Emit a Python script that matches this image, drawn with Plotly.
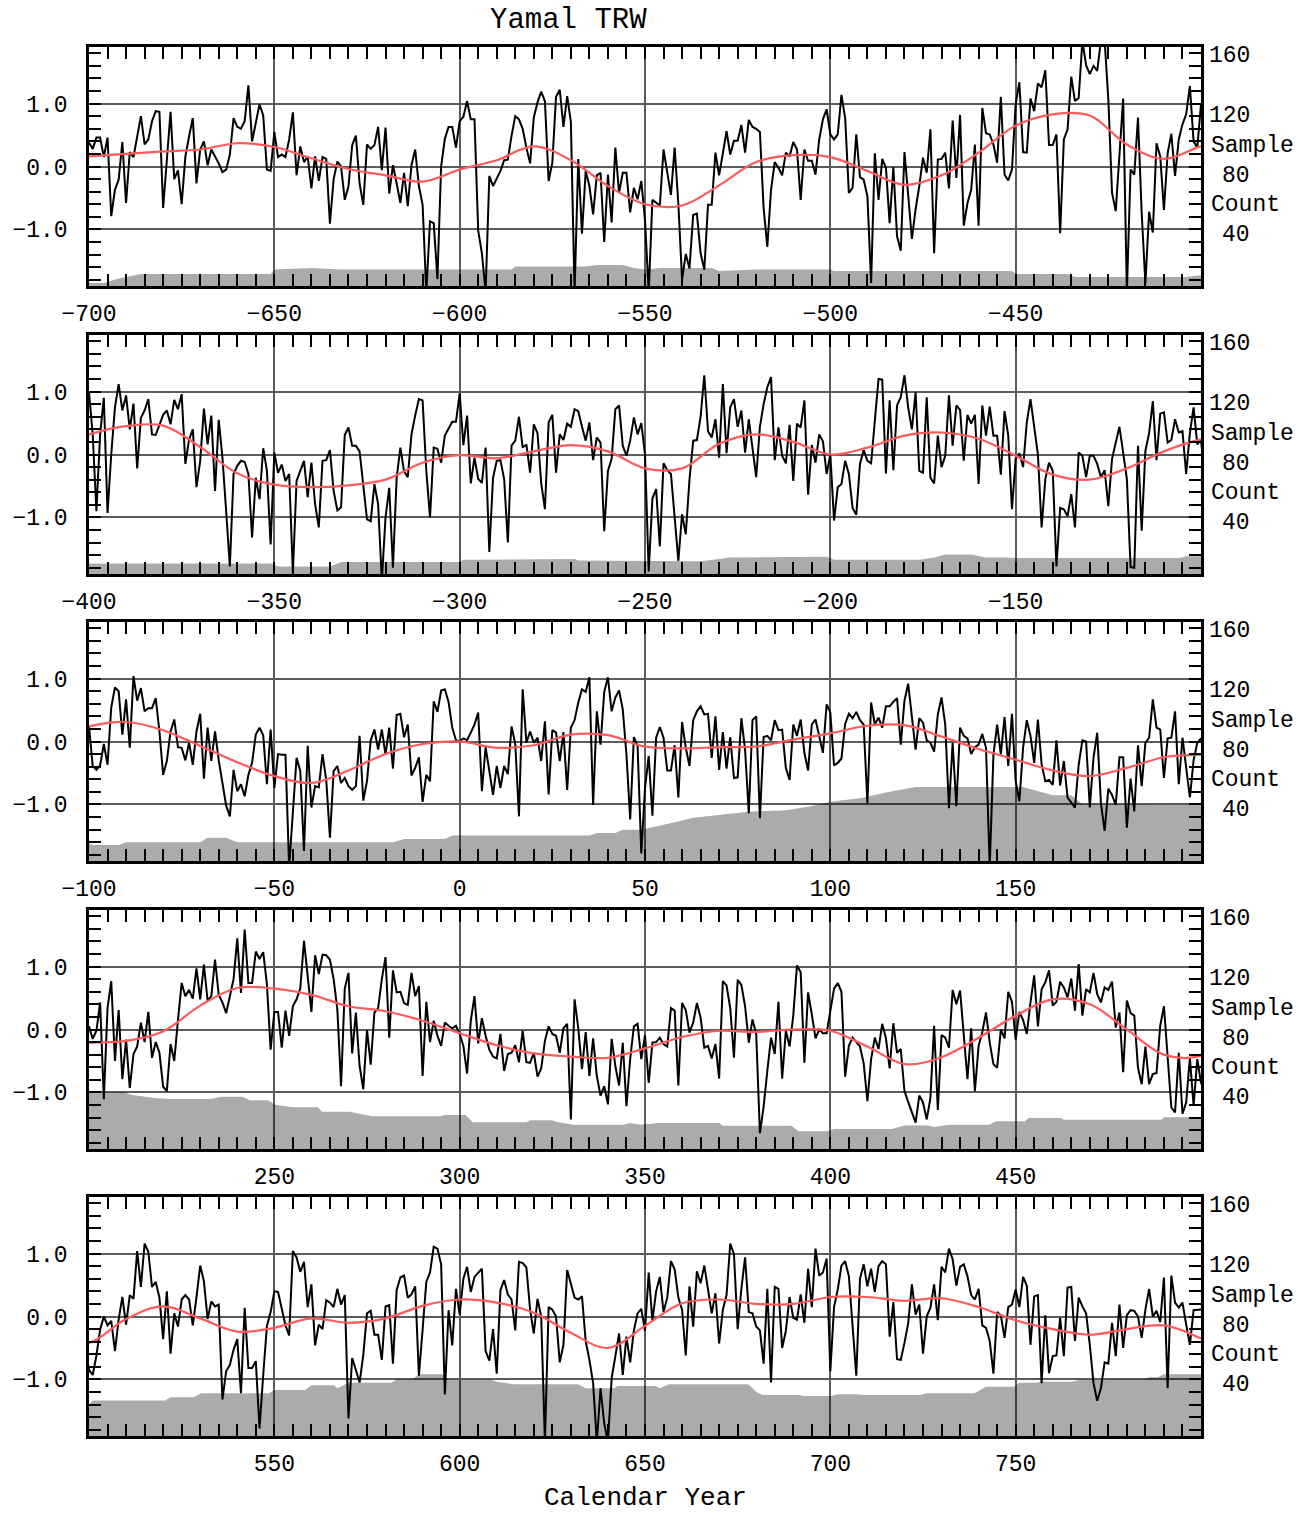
import plotly.graph_objects as go

# ---------------- data ----------------
trw_p1 = [
    0.38, 0.28, 0.46, 0.46, 0.15, 0.46, -0.79, -0.37, -0.21, 0.39,
    -0.58, 0.23, 0.15, 0.45, 0.80, 0.35, 0.43, 0.72, 0.88, 0.87,
    -0.66, 0.10, 0.87, -0.20, -0.06, -0.60, 0.16, 0.48, 0.77, -0.27,
    0.27, 0.40, 0.02, 0.27, 0.16, 0.05, -0.09, -0.05, 0.19, 0.77,
    0.63, 0.60, 0.72, 1.29, 0.40, 0.70, 0.99, 0.81, -0.05, -0.07,
    0.55, 0.15, 0.19, 0.15, 0.43, 0.86, -0.14, 0.32, 0.07, 0.16,
    -0.35, 0.16, -0.23, 0.15, 0.12, -0.91, -0.20, 0.08, 0.00, -0.53,
    -0.32, 0.34, 0.49, -0.27, -0.61, 0.35, 0.28, 0.34, 0.63, -0.06,
    0.62, -0.43, 0.02, -0.27, -0.58, -0.10, -0.63, 0.02, 0.27, -0.31,
    -0.61, -2.00, -0.87, -0.90, -1.79, 0.00, 0.44, 0.63, 0.63, 0.30,
    0.72, 0.79, 1.04, 0.75, 0.75, -1.02, -1.38, -2.00, -0.15, -0.31,
    -0.18, -0.07, 0.10, 0.11, 0.49, 0.80, 0.75, 0.60, 0.30, 0.05,
    0.78, 1.02, 1.19, 1.04, -0.23, 0.06, 1.11, 1.22, 0.63, 1.12,
    0.71, -2.00, 0.12, -1.07, -0.07, -0.31, -0.76, -0.14, -0.10, -1.20,
    -0.13, -0.89, 0.30, -0.42, -0.10, -0.10, -0.73, -0.34, -0.52, -0.23,
    -0.85, -2.00, -0.53, -0.58, -0.62, 0.27, -0.10, -0.45, 0.30, -0.60,
    -1.80, -1.39, -1.62, -0.77, -0.75, -1.38, -1.64, -0.61, -0.61, 0.22,
    -0.14, 0.24, 0.56, 0.19, 0.41, 0.41, 0.66, 0.22, 0.74, 0.63,
    0.60, 0.55, -0.66, -1.28, -0.37, 0.07, -0.02, -0.14, 0.22, 0.16,
    0.39, 0.27, -0.53, 0.27, 0.09, 0.09, -0.13, 0.43, 0.75, 0.91,
    0.51, 0.43, 0.51, 1.14, 0.77, -0.42, -0.34, 0.51, -0.17, -0.21,
    -0.47, -1.85, 0.21, -0.53, 0.12, -0.02, -0.90, -0.01, -1.11, -1.34,
    0.23, -0.45, -1.15, -0.68, -0.31, 0.14, -0.10, 0.59, -1.38, 0.11,
    0.12, 0.22, -0.35, 0.73, -0.18, 0.82, -0.94, -0.58, -0.37, 0.35,
    -0.94, 0.93, 0.53, 0.51, 0.35, 0.06, 1.11, -0.13, -0.22, -0.05,
    0.99, 1.34, 0.23, 0.22, 1.08, 0.88, 1.32, 1.26, 1.53, 0.34,
    0.34, 0.51, -1.06, 0.43, 0.59, 1.43, 1.04, 1.09, 2.00, 1.61,
    1.47, 1.60, 1.52, 2.00, 2.00, 1.07, -0.42, -0.71, 0.22, 1.08,
    -2.00, -0.05, -0.13, 0.78, -0.74, -1.86, -0.72, -1.05, 0.37, 0.16,
    -0.69, 0.21, 0.52, -0.15, 0.43, 0.67, 0.83, 1.28, 0.40, 0.30,
]

trw_p2 = [
    0.99, 0.32, -0.90, 0.32, 0.90, -0.93, 0.00, 0.75, 1.12, 0.70,
    0.94, 0.40, 0.81, -0.22, 0.58, 0.70, 0.88, 0.32, 0.31, 0.48,
    0.63, 0.70, 0.48, 0.87, 0.72, 0.96, -0.15, 0.24, 0.40, -0.52,
    -0.10, 0.73, 0.16, 0.62, -0.58, 0.55, -0.05, -0.90, -1.78, -0.31,
    -0.18, -0.10, -0.12, -0.31, -1.32, -0.37, -0.71, 0.10, -0.26, -1.43,
    0.03, -0.29, -0.16, -0.42, -0.31, -1.88, -0.42, -0.26, -0.10, -0.68,
    -0.13, -0.79, -1.16, -0.10, -0.09, 0.07, -0.58, -0.89, -0.84, 0.31,
    0.43, 0.14, 0.14, 0.05, -0.53, -1.03, -1.06, -0.47, -0.79, -2.00,
    -1.00, -0.53, -1.80, -0.37, 0.11, -0.27, -0.36, 0.32, 0.62, 0.88,
    0.86, -0.26, -1.00, 0.11, 0.09, -0.13, 0.30, 0.40, 0.52, 0.52,
    0.97, 0.15, 0.62, -0.46, -0.05, -0.39, -0.45, 0.11, -1.55, -0.37,
    -0.10, -0.09, -0.39, -1.40, 0.14, 0.22, 0.60, 0.11, 0.16, -0.29,
    0.48, 0.34, -0.46, -0.87, 0.51, 0.63, -0.29, 0.32, 0.23, 0.49,
    0.44, 0.72, 0.69, 0.44, 0.22, 0.51, -0.09, 0.27, 0.19, -1.22,
    -0.26, -0.07, 0.72, 0.78, 0.14, -0.02, 0.22, 0.59, 0.32, 0.50,
    0.00, -1.86, -0.70, -0.55, -1.46, -0.14, -0.25, -0.31, -1.00, -1.69,
    -0.95, -1.27, -0.40, 0.22, 0.23, 0.60, 1.26, 0.37, 0.27, 0.56,
    -0.05, 1.12, 0.02, 0.75, 0.88, 0.44, 0.70, 0.03, 0.56, 0.10,
    -0.36, 0.44, 0.80, 1.07, 1.23, -0.09, 0.43, -0.02, -0.14, 0.47,
    -0.42, 0.49, 0.43, 0.86, -0.64, 0.15, -0.13, 0.32, 0.21, -0.31,
    0.00, -1.05, -0.52, -0.47, -0.10, -0.31, -0.85, -0.96, -0.15, 0.07,
    -0.10, -0.14, 0.54, 1.20, 1.19, -0.30, 0.86, -0.25, 0.78, 0.91,
    1.26, 0.75, 0.40, 0.99, -0.26, -0.29, 0.91, -0.37, -0.46, 0.30,
    -0.20, -0.02, 0.94, 0.14, 0.78, 0.71, -0.10, 0.63, 0.49, 0.63,
    -0.47, 0.78, 0.30, 0.76, 0.30, 0.30, -0.32, 0.69, 0.30, -0.87,
    -0.07, 0.02, -0.20, 0.51, 0.88, 0.48, 0.00, -1.16, -0.39, -0.13,
    -0.26, -1.78, -0.85, -0.87, -0.98, -0.63, -1.16, 0.03, -0.02, -0.36,
    -0.02, -0.02, -0.15, -0.36, -0.25, -0.82, -0.07, 0.19, 0.44, 0.03,
    -0.39, -1.79, -1.80, 0.14, -1.21, 0.06, 0.34, 0.85, -0.09, 0.65,
    0.67, 0.19, 0.23, 0.56, 0.35, 0.37, -0.31, 0.34, 0.75, 0.16,
]

trw_p3 = [
    0.24, -0.39, -0.45, -0.38, -0.04, -0.37, 0.54, 0.86, 0.80, 0.11,
    0.67, -0.10, 1.04, 0.65, 0.85, 0.48, 0.53, 0.53, 0.69, 0.16,
    -0.53, -0.31, 0.16, 0.35, -0.09, -0.10, -0.30, -0.02, -0.37, 0.16,
    0.44, -0.59, 0.22, -0.31, 0.16, -0.30, -0.63, -1.02, -1.19, -0.45,
    -0.79, -0.68, -0.87, -0.53, -0.34, 0.11, 0.22, 0.10, -0.68, 0.19,
    -0.74, -0.20, -0.21, -0.21, -2.00, -1.06, -0.26, -0.47, -1.74, -0.07,
    -1.05, -0.71, -0.73, -0.20, -0.61, -1.53, -0.47, -0.39, -0.66, -0.58,
    -0.71, -0.77, -0.71, 0.09, -0.94, -0.63, 0.02, 0.19, -0.13, 0.19,
    -0.21, 0.22, -0.43, 0.42, 0.44, 0.07, 0.27, -0.54, -0.42, -0.25,
    -0.96, -0.53, -0.63, 0.64, 0.47, 0.81, 0.83, 0.63, 0.22, 0.02,
    0.00, 0.05, 0.02, 0.14, 0.27, 0.46, -0.79, -0.09, -0.47, -0.85,
    -0.39, -0.74, -0.39, -0.52, 0.24, -0.04, -1.19, 0.83, -0.02, 0.16,
    -0.02, 0.06, -0.31, 0.32, -0.84, 0.18, 0.14, -0.31, 0.15, -0.77,
    0.22, 0.34, 0.62, 0.83, 0.79, 1.02, -1.01, 0.48, -0.05, 0.79,
    1.02, 0.48, 0.70, 0.81, 0.51, -0.21, -1.24, 0.07, -0.07, -1.78,
    -0.74, -0.23, -1.18, 0.06, 0.23, 0.06, -0.46, -0.46, -0.06, -0.89,
    0.31, -0.10, -0.39, 0.34, 0.48, 0.56, 0.43, 0.44, -0.26, 0.40,
    -0.45, 0.15, -0.43, 0.07, -0.58, -0.57, 0.37, -0.13, -1.14, 0.34,
    0.40, -1.22, 0.07, 0.09, 0.02, 0.34, 0.18, 0.19, -0.42, -0.61,
    0.27, 0.09, 0.35, -0.18, -0.46, 0.27, 0.35, 0.10, -0.18, 0.59,
    0.46, -0.38, -0.34, -0.27, 0.28, 0.44, 0.37, 0.47, 0.34, 0.27,
    -0.98, 0.62, 0.27, 0.38, 0.22, 0.56, 0.56, 0.63, 0.69, -0.05,
    0.65, 0.92, 0.39, -0.13, 0.37, 0.30, 0.02, -0.02, -0.16, 0.43,
    0.70, 0.27, -1.06, -0.02, -1.03, 0.22, 0.09, 0.05, -0.20, -0.09,
    -0.05, 0.12, -0.10, -2.00, -0.21, 0.27, -0.21, 0.39, -0.39, 0.44,
    -0.63, -0.95, -0.10, 0.34, 0.09, -0.34, 0.35, -0.36, -0.63, -0.61,
    -0.69, 0.02, -0.70, -0.31, -0.89, -0.98, -1.05, -0.37, 0.02, 0.00,
    -1.05, -0.26, 0.14, -0.98, -1.42, -0.75, -0.85, -1.01, -0.25, -0.25,
    -1.37, -0.59, -1.11, -0.06, -0.71, -0.02, 0.06, 0.67, 0.22, 0.19,
    -0.58, 0.05, 0.06, 0.48, -0.68, 0.06, -0.42, -0.89, -0.30, -0.02,
]

trw_p4 = [
    0.05, -0.15, -0.02, 0.43, -1.11, 0.34, 0.77, -0.50, 0.31, -0.79,
    -0.16, -0.93, -0.39, -0.27, 0.11, -0.20, 0.28, -0.45, -0.20, -0.37,
    -0.91, -0.98, -0.23, -0.50, 0.15, 0.74, 0.53, 0.63, 0.49, 0.97,
    0.48, 1.03, 0.46, 0.53, 1.11, 0.55, 0.43, 0.26, 0.53, 0.80,
    1.45, 0.58, 1.59, 0.74, 0.74, 1.24, 1.12, 1.23, 0.72, -0.32,
    0.28, 0.28, -0.29, 0.30, -0.10, 0.37, 0.48, 0.65, 1.41, 0.86,
    0.28, 1.18, 0.88, 1.19, 1.18, 1.11, 0.80, 0.32, -0.90, 0.65,
    0.90, -0.38, 0.27, -0.58, -0.95, -0.01, -0.56, 0.27, 0.34, 0.80,
    1.15, -0.13, 0.94, 0.59, 0.60, 0.42, 0.39, 0.90, 0.53, 0.69,
    -0.74, 0.44, -0.20, 0.14, -0.10, -0.26, 0.11, 0.06, 0.02, 0.06,
    -0.07, -0.26, -0.70, 0.14, 0.53, -0.22, 0.18, -0.10, -0.32, -0.43,
    -0.46, -0.07, -0.66, -0.39, -0.37, -0.25, -0.52, -0.02, -0.52, -0.53,
    -0.37, -0.75, -0.62, -0.18, 0.05, -0.07, -0.10, -0.37, 0.02, 0.09,
    -1.43, 0.48, 0.02, -0.63, -0.04, -0.74, -0.14, -0.74, -1.05, -0.90,
    -1.19, -0.15, -0.58, -0.89, -0.21, -1.22, -0.47, 0.05, 0.09, -0.47,
    -0.09, -0.85, -0.21, -0.20, -0.13, -0.23, -0.27, 0.34, 0.30, -0.89,
    0.42, 0.31, -0.05, 0.11, 0.42, 0.19, -0.29, -0.26, -0.46, -0.23,
    -0.78, 0.77, 0.70, 0.34, -0.45, 0.79, 0.71, 0.37, -0.21, 0.16,
    -0.07, -1.65, -1.23, -0.66, -0.13, -0.39, 0.44, -0.78, -0.02, -0.27,
    0.22, 1.02, 0.91, -0.53, 0.59, 0.24, -0.14, 0.00, -0.06, -0.06,
    0.30, 0.65, 0.74, 0.60, -0.75, -0.26, -0.13, -0.20, -0.27, -0.54,
    -1.14, -0.47, -0.13, -0.31, 0.09, -0.14, -0.62, 0.10, -0.37, -0.31,
    -0.98, -1.15, -1.31, -1.48, -1.05, -1.16, -1.43, -1.09, 0.06, -1.28,
    -0.09, -0.13, -0.29, 0.63, 0.40, 0.62, -0.09, -0.79, 0.02, -0.98,
    -0.26, -0.04, 0.27, -0.21, -0.55, -0.61, 0.00, -0.14, 0.60, 0.44,
    -0.16, 0.28, 0.15, -0.07, 0.43, 0.86, 0.05, 0.64, 0.75, 0.94,
    0.38, 0.44, 0.76, 0.67, 0.51, 0.81, 0.30, 1.04, 0.22, 0.64,
    0.59, 0.90, 0.56, 0.43, 0.67, 0.63, 0.76, 0.03, 0.27, -0.68,
    0.46, 0.26, 0.22, -0.61, -0.87, -0.27, -0.87, -0.71, -0.69, 0.06,
    0.37, -0.39, -1.24, -1.32, -0.37, -1.34, -1.16, -0.45, -1.21, -0.47,
]

trw_p5 = [
    -0.85, -0.93, -0.62, -0.21, 0.00, -0.14, -0.07, -0.55, -0.05, 0.31,
    -0.13, 0.34, 0.28, 1.04, 0.47, 1.16, 1.03, 0.47, 0.55, 0.30,
    -0.36, 0.40, -0.59, 0.05, -0.16, 0.27, 0.34, 0.27, -0.14, 0.31,
    0.81, 0.56, -0.04, 0.24, 0.16, 0.19, -1.32, -0.87, -0.77, -0.53,
    -0.36, -1.22, 0.14, -0.82, -0.82, -0.71, -1.78, -0.93, -0.15, 0.07,
    0.40, 0.39, 0.12, -0.14, -0.30, 1.04, 0.94, 0.71, 0.87, 0.15,
    0.51, -0.46, -0.13, -0.20, 0.26, 0.22, 0.15, 0.44, 0.19, 0.34,
    -1.62, -0.66, -0.85, -1.05, -0.61, 0.05, 0.09, -0.29, -0.29, -0.69,
    0.16, 0.18, -0.75, 0.42, 0.62, 0.65, 0.30, 0.35, 0.48, -0.94,
    -0.21, 0.55, 0.70, 1.11, 1.08, 0.83, -1.24, 0.10, -0.46, 0.44,
    0.03, 0.60, 0.79, 0.39, 0.63, 0.70, 0.76, -0.55, -0.70, -0.20,
    -0.91, 0.42, 0.58, 0.35, 0.27, -0.22, 0.87, 0.85, 0.78, 0.11,
    -0.27, 0.28, 0.00, -2.00, 0.15, 0.11, 0.00, -0.73, -0.45, 0.74,
    0.54, 0.30, 0.27, 0.32, -0.39, -0.69, -1.06, -2.00, -1.14, -1.70,
    -2.00, -0.98, -0.63, -0.27, -0.93, -0.32, -0.73, -0.22, 0.05, 0.12,
    -0.23, 0.70, -0.07, 0.40, 0.63, 0.07, 0.30, 0.88, 0.75, 0.30,
    0.11, -0.62, 0.48, -0.16, 0.72, 0.53, 0.81, 0.43, 0.05, 0.37,
    -0.43, 0.11, 0.34, 1.16, 0.99, -0.20, 0.44, 0.94, 0.07, 0.05,
    -0.16, -0.22, -0.75, 0.44, -1.05, 0.47, 0.44, -0.50, -0.23, 0.31,
    -0.02, -0.05, 0.35, -0.10, 0.76, 0.15, 1.08, 0.65, 0.70, 0.92,
    -0.87, 0.15, 0.43, 0.81, 0.88, 0.64, -0.10, -0.94, 0.60, 0.83,
    0.48, 0.76, 0.39, 0.80, 0.88, 0.83, -0.32, 0.23, -0.68, -0.69,
    -0.42, -0.11, 0.51, 0.03, 0.19, -0.59, 0.00, 0.14, 0.51, -0.06,
    0.79, 0.70, 1.08, 0.91, 0.49, 0.79, 0.83, 0.64, 0.34, 0.27,
    0.44, -0.14, -0.18, -0.39, -0.91, 0.07, 0.02, -0.34, 0.15, 0.19,
    0.43, 0.15, 0.63, 0.49, -0.45, 0.32, 0.34, -1.06, 0.02, -0.90,
    -0.63, -0.62, -0.02, -0.63, 0.46, 0.47, -0.39, 0.30, 0.16, 0.05,
    -0.45, -1.06, -1.34, -1.14, -0.73, -0.75, -0.10, -0.63, 0.19, -0.50,
    0.02, 0.10, 0.09, 0.00, -0.34, 0.11, 0.44, 0.00, 0.09, -0.09,
    0.62, -1.14, 0.65, 0.22, 0.14, 0.22, -0.13, -0.45, 0.10, 0.11,
    0.11,
]

first_year = -700
smooth_step = 10
smooth_values = [
    0.16, 0.20, 0.24, 0.27, 0.37, 0.31, 0.13, -0.04, -0.14, -0.24,
    -0.05, 0.10, 0.32, 0.10, -0.31, -0.60, -0.62, -0.30, 0.07, 0.18,
    0.15, -0.07, -0.29, -0.14, 0.22, 0.65, 0.83, 0.81, 0.35, 0.12,
    0.32, 0.45, 0.46, 0.12, -0.30, -0.48, -0.52, -0.49, -0.40, -0.13,
    -0.01, -0.06, 0.05, 0.15, 0.05, -0.22, -0.22, 0.17, 0.32, 0.20,
    0.00, 0.11, 0.30, 0.35, 0.25, -0.02, -0.32, -0.40, -0.22, 0.05,
    0.24, 0.31, 0.18, -0.07, -0.33, -0.55, -0.66, -0.46, -0.20, -0.04,
    0.00, -0.10, -0.06, 0.11, 0.10, -0.08, -0.11, -0.09, -0.08, 0.03,
    0.13, 0.25, 0.26, 0.08, -0.12, -0.29, -0.46, -0.55, -0.42, -0.25,
    -0.21, -0.18, -0.03, 0.38, 0.66, 0.65, 0.55, 0.37, 0.29, 0.14,
    -0.06, -0.25, -0.38, -0.43, -0.45, -0.30, -0.12, -0.02, -0.04, 0.00,
    -0.02, -0.27, -0.55, -0.44, -0.13, 0.22, 0.48, 0.40, 0.00, -0.40,
    -0.42, -0.04, 0.16, -0.03, -0.24, -0.18, -0.03, -0.10, -0.03, 0.17,
    0.27, 0.22, 0.06, -0.26, -0.50, -0.15, 0.21, 0.27, 0.20, 0.20,
    0.31, 0.31, 0.25, 0.29, 0.15, -0.06, -0.20, -0.29, -0.20, -0.14,
    -0.35,
]

count_years = [
    -700, -696, -692, -686, -651, -650, -640, -632, -586, -585, -566, -563, -556, -553,
    -550, -546, -532, -530, -520, -500, -499, -451, -450, -436, -434, -404, -401,
    -400, -351, -349, -335, -332, -300, -299, -285, -269, -268, -250, -248, -235, -227,
    -201, -199, -176, -172, -169, -162, -158, -152, -150, -106, -104, -100,
    -99, -92, -90, -70, -68, -63, -60, -18, -15, -4, -2, 35, 37, 42, 44, 49, 55, 58,
    63, 70, 78, 88, 94, 101, 108, 116, 123, 152, 155, 160, 165, 168, 198, 200,
    201, 209.5, 211.4, 218, 222, 232.8, 235.7, 241.5, 243.4, 248.3, 250.2, 255, 261.8,
    262.8, 270.5, 272.5, 276.4, 294.8, 296, 301.6, 303.5, 318, 319, 324.8, 326, 330.6,
    344.2, 346, 348.8, 353.6, 370, 371, 389.5, 391.4, 399.2, 401.1, 416.6, 420, 426.3,
    428, 432, 442.8, 444.7, 452.5, 453.5, 462.2, 463, 489.3, 490, 500,
    501, 520.5, 522, 528.3, 530.2, 548.6, 550, 558.3, 560, 566.1, 567, 570, 581.6, 583,
    587.4, 589, 595.2, 597, 608.7, 610, 614.5, 632, 634, 641.7, 642.6, 652.7, 654, 656.5,
    677.9, 680, 681.7, 691.4, 693, 700.2, 702, 707, 709, 724.4, 726, 738.9, 742, 749.6,
    751, 755.4, 757, 765.1, 767, 774.8, 776, 784.5, 786, 788.3, 790, 800,
]
count_values = [
    2, 2, 5, 8, 8, 11, 12, 11, 11, 13, 13, 14, 14, 12,
    11, 12, 12, 10, 11, 11, 10, 10, 8, 8, 6, 6, 7,
    7, 7, 5, 5, 8, 8, 9.6, 10, 10, 9, 9, 8.5, 8.5, 11,
    11.6, 9.6, 9.6, 11, 13, 13, 11, 11, 10.7, 10.7, 11.8, 11.8,
    10.7, 10.7, 12.5, 12.5, 15.6, 15.6, 12.5, 12.5, 14.7, 14.7, 17, 17, 18.8, 18.8, 21, 21, 24, 26,
    29, 31, 33, 34, 36.4, 40, 42, 46.4, 49.6, 49.6, 47.5, 44, 44, 38, 37.5, 39,
    38, 38, 36.4, 34, 33.5, 33.5, 35, 35, 32.6, 32.6, 29.7, 28, 28,
    25, 25, 23.7, 21.9, 21.9, 22.8, 22.8, 17.9, 17.9, 19.2, 19.2, 18.3, 16.3,
    16.3, 17.4, 16.3, 17.4, 17.4, 15.6, 15.6, 11.8, 11.8, 13.4, 13.4, 15.8, 15.8,
    14.7, 16.3, 16.3, 18.5, 18.5, 20.8, 20.8, 19.6, 19.6, 21.2, 21.2,
    23.7, 23.7, 25.9, 25.9, 28.6, 28.6, 30.8, 30.8, 34, 34, 32, 35.7, 35.7, 38,
    38, 41.3, 41.3, 37.5, 37.5, 36.4, 34.6, 34.6, 32, 32, 33.5, 33.5, 32, 34.6,
    34.6, 29.7, 27.5, 27.5, 26.8, 26.8, 28, 28, 27.5, 27.5, 28.6, 28.6, 33, 33,
    35.7, 35.7, 36.4, 36.4, 37.5, 37.5, 38, 38, 39.3, 39.3, 41.3, 41.3,
]

panel_starts = [-700, -400, -100, 200, 500]
panel_span = 300
xtick_step = 50
xtick_labels = [
    ["\u2212700", "\u2212650", "\u2212600", "\u2212550", "\u2212500", "\u2212450", ""],
    ["\u2212400", "\u2212350", "\u2212300", "\u2212250", "\u2212200", "\u2212150", ""],
    ["\u2212100", "\u221250", "0", "50", "100", "150", ""],
    ["", "250", "300", "350", "400", "450", ""],
    ["", "550", "600", "650", "700", "750", ""],
]
ytick_values = [-1.0, 0.0, 1.0]
ytick_labels = ["\u22121.0", "0.0", "1.0"]
count_tick_values = [160, 120, 80, 40]
count_words = [("Sample", 100), ("Count", 60)]

# ---------------- figure ----------------
trw_values = trw_p1 + trw_p2 + trw_p3 + trw_p4 + trw_p5
trw_years = list(range(first_year, first_year + len(trw_values)))
smooth_years = list(range(first_year, first_year + smooth_step * len(smooth_values), smooth_step))

W, H = 1316, 1516
L, R, T, B = 87, 115, 47, 80
plot_w = W - L - R
plot_h = H - T - B
panel_tops = [47, 335, 622, 910, 1197]
panel_h = 239
FONT = "Liberation Mono, Courier New, monospace"
GRID = "#5c5c5c"


def yfrac(px):
    return (H - B - px) / plot_h


def xfrac(px):
    return (px - L) / plot_w


fig = go.Figure()
layout = dict(
    width=W, height=H, autosize=False,
    margin=dict(l=L, r=R, t=T, b=B),
    paper_bgcolor="white", plot_bgcolor="white",
    showlegend=False,
    font=dict(family=FONT, size=23, color="black"),
)
annotations = []

for i, start in enumerate(panel_starts):
    xn = i + 1
    yc = 2 * i + 1   # sample-count axis (base)
    yt = 2 * i + 2   # TRW axis (overlay)
    xname = "x" if xn == 1 else f"x{xn}"
    ycname = "y" if yc == 1 else f"y{yc}"
    ytname = f"y{yt}"
    dom = [yfrac(panel_tops[i] + panel_h), yfrac(panel_tops[i])]

    fig.add_trace(go.Scatter(
        x=count_years, y=count_values, xaxis=xname, yaxis=ycname,
        mode="lines", line=dict(width=0), fill="tozeroy",
        fillcolor="rgba(0,0,0,0.33)", hoverinfo="skip"))
    fig.add_trace(go.Scatter(
        x=trw_years, y=trw_values, xaxis=xname, yaxis=ytname,
        mode="lines", line=dict(color="black", width=2.0)))
    fig.add_trace(go.Scatter(
        x=smooth_years, y=smooth_values, xaxis=xname, yaxis=ytname,
        mode="lines", line=dict(color="#ff5a5a", width=2.2, shape="spline", smoothing=1.0)))

    tickvals = list(range(start, start + panel_span + 1, xtick_step))
    layout["xaxis" if xn == 1 else f"xaxis{xn}"] = dict(
        domain=[0, 1], range=[start, start + panel_span], anchor=ycname,
        tickmode="array", tickvals=tickvals, ticktext=xtick_labels[i],
        ticks="inside", ticklen=12, tickwidth=2, tickcolor="black",
        showline=True, linecolor="black", linewidth=2.5, mirror="allticks",
        showgrid=True, gridcolor=GRID, gridwidth=2, zeroline=False,
        minor=dict(tickmode="linear", tick0=0, dtick=5, ticks="inside", ticklen=12,
                   tickwidth=2, tickcolor="black", showgrid=False),
        tickfont=dict(family=FONT, size=23, color="black"),
        ticklabelstandoff=5,
    )
    layout["yaxis" if yc == 1 else f"yaxis{yc}"] = dict(
        domain=dom, range=[0, 160], anchor=xname, side="right",
        showticklabels=False, ticks="", showgrid=False, zeroline=False, showline=False,
    )
    layout[f"yaxis{yt}"] = dict(
        domain=dom, range=[-1.9, 1.9], anchor=xname, overlaying=ycname, side="left",
        tickmode="array", tickvals=ytick_values, ticktext=ytick_labels,
        ticks="inside", ticklen=12, tickwidth=2, tickcolor="black",
        showline=True, linecolor="black", linewidth=2.5, mirror="allticks",
        showgrid=True, gridcolor=GRID, gridwidth=2, zeroline=False,
        minor=dict(tickmode="linear", tick0=0, dtick=0.2, ticks="inside", ticklen=12,
                   tickwidth=2, tickcolor="black", showgrid=False),
        tickfont=dict(family=FONT, size=23, color="black"),
        ticklabelstandoff=14,
    )

    for v in count_tick_values:
        annotations.append(dict(
            text=str(v), xref="paper", yref=ycname, x=xfrac(1252), y=v,
            xanchor="right", yanchor="middle", yshift=-9, showarrow=False,
            font=dict(family=FONT, size=23, color="black")))
    for word, v in count_words:
        annotations.append(dict(
            text=word, xref="paper", yref=ycname, x=xfrac(1209), y=v,
            xanchor="left", yanchor="middle", yshift=-9, showarrow=False,
            font=dict(family=FONT, size=23, color="black")))

annotations.append(dict(
    text="Yamal TRW", xref="paper", yref="paper", x=xfrac(567), y=yfrac(21),
    xanchor="center", yanchor="middle", showarrow=False,
    font=dict(family=FONT, size=29, color="black")))
annotations.append(dict(
    text="Calendar Year", xref="paper", yref="paper", x=xfrac(644), y=yfrac(1498),
    xanchor="center", yanchor="middle", showarrow=False, borderpad=0,
    font=dict(family=FONT, size=26, color="black")))

layout["annotations"] = annotations
fig.update_layout(**layout)
fig.write_html("out.html")
